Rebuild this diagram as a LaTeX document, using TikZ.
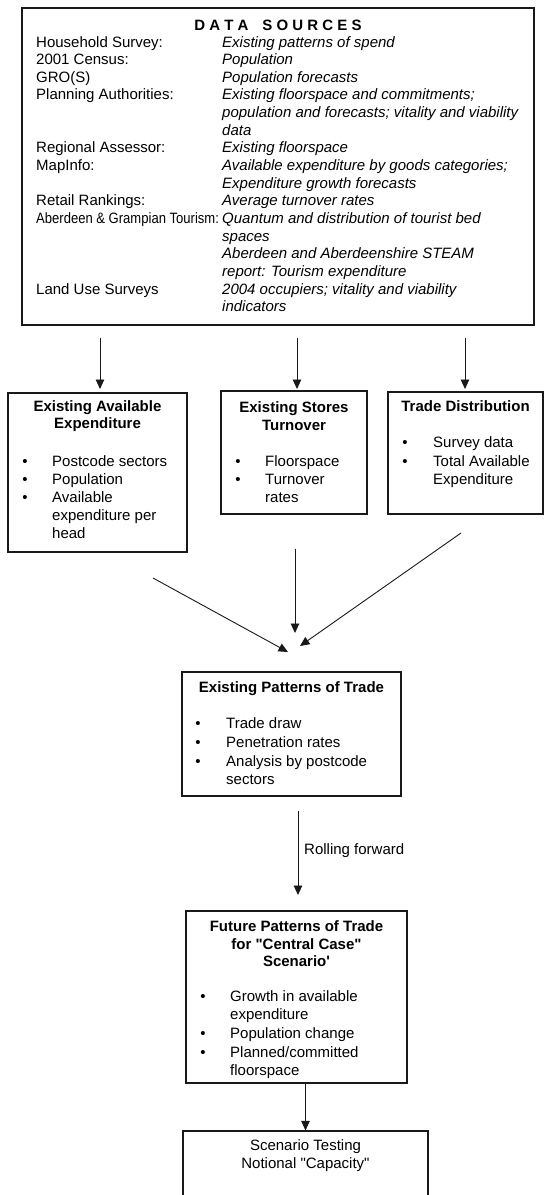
\documentclass[tikz,border=0pt]{standalone}
\usepackage{fontspec}
\setmainfont{Liberation Sans}[Ligatures=TeXOff]
\usetikzlibrary{arrows.meta}
\begin{document}
\begin{tikzpicture}[x=1pt,y=-1pt,
  box/.style={draw=black!90, line width=1.1pt, rectangle, inner sep=0pt},
  txt/.style={anchor=base west, inner sep=0pt, font=\fontsize{15}{17.6}\selectfont},
  itx/.style={txt, font=\fontsize{15}{17.6}\selectfont\itshape},
  ctxt/.style={anchor=base, inner sep=0pt, font=\fontsize{15}{17.6}\selectfont},
  btitle/.style={anchor=base, inner sep=0pt, font=\fontsize{15}{17.6}\selectfont\bfseries},
  bul/.style={anchor=base, inner sep=0pt, font=\fontsize{15}{17.6}\selectfont},
  arr/.style={draw=black!90, line width=0.9pt, -{Triangle[length=9.5pt,width=8.5pt]}},
]
\useasboundingbox (0,0) rectangle (544,1195);
\clip (0,0) rectangle (544,1195);

% ---------- boxes ----------
\node[box, minimum width=512pt, minimum height=317pt] (ds) at (278,166.5) {};
\node[box, minimum width=179pt, minimum height=159pt] (aae) at (97.5,472.5) {};
\node[box, minimum width=146pt, minimum height=123pt] (est) at (294,452.5) {};
\node[box, minimum width=155pt, minimum height=122pt] (td) at (465.5,453) {};
\node[box, minimum width=219pt, minimum height=124pt] (ept) at (291.5,734) {};
\node[box, minimum width=221pt, minimum height=172pt] (fpt) at (296.5,997) {};
\node[box, minimum width=245pt, minimum height=84pt] (st) at (305.5,1173) {};

% ---------- data sources ----------
\node[btitle] (dst) at (278,30.5) {D A T A\hspace{14pt}S O U R C E S};
\node[txt] (l1) at (36,47.0) {Household Survey:};
\node[itx] (r1) at (222,47.0) {Existing patterns of spend};
\node[txt] (l2) at (36,64.65) {2001 Census:};
\node[itx] (r2) at (222,64.65) {Population};
\node[txt] (l3) at (36,82.3) {GRO(S)};
\node[itx] (r3) at (222,82.3) {Population forecasts};
\node[txt] (l4) at (36,99.95) {Planning Authorities:};
\node[itx] (r4) at (222,99.95) {Existing floorspace and commitments;};
\node[itx] (r5) at (222,117.6) {population and forecasts; vitality and viability};
\node[itx] (r6) at (222,135.25) {data};
\node[txt] (l7) at (36,152.9) {Regional Assessor:};
\node[itx] (r7) at (222,152.9) {Existing floorspace};
\node[txt] (l8) at (36,170.55) {MapInfo:};
\node[itx] (r8) at (222,170.55) {Available expenditure by goods categories;};
\node[itx] (r9) at (222,188.2) {Expenditure growth forecasts};
\node[txt] (l10) at (36,205.85) {Retail Rankings:};
\node[itx] (r10) at (222,205.85) {Average turnover rates};
\node[txt] (l11) at (36,223.5) {\scalebox{0.87}[1]{Aberdeen \& Grampian Tourism:}};
\node[itx] (r11) at (222,223.5) {Quantum and distribution of tourist bed};
\node[itx] (r12) at (222,241.15) {spaces};
\node[itx] (r13) at (222,258.8) {Aberdeen and Aberdeenshire STEAM};
\node[itx] (r14) at (222,276.45) {report: Tourism expenditure};
\node[txt] (l15) at (36,294.1) {Land Use Surveys};
\node[itx] (r15) at (222,294.1) {2004 occupiers; vitality and viability};
\node[itx] (r16) at (222,311.75) {indicators};

% ---------- Existing Available Expenditure ----------
\node[btitle] (aat1) at (97.5,411.5) {Existing Available};
\node[btitle] (aat2) at (97.5,428.5) {Expenditure};
\node[bul] (ab1) at (25,466.5) {\textbullet};
\node[txt] (ai1) at (52,466.5) {Postcode sectors};
\node[bul] (ab2) at (25,484.5) {\textbullet};
\node[txt] (ai2) at (52,484.5) {Population};
\node[bul] (ab3) at (25,502.5) {\textbullet};
\node[txt] (ai3) at (52,502.5) {Available};
\node[txt] (ai4) at (52,520.5) {expenditure per};
\node[txt] (ai5) at (52,538.5) {head};

% ---------- Existing Stores Turnover ----------
\node[btitle] (est1) at (294,412.5) {Existing Stores};
\node[btitle] (est2) at (294,430) {Turnover};
\node[bul] (eb1) at (238,466.5) {\textbullet};
\node[txt] (ei1) at (265,466.5) {Floorspace};
\node[bul] (eb2) at (238,484.5) {\textbullet};
\node[txt] (ei2) at (265,484.5) {Turnover};
\node[txt] (ei3) at (265,502.5) {rates};

% ---------- Trade Distribution ----------
\node[btitle] (tdt) at (465.5,411.5) {Trade Distribution};
\node[bul] (tb1) at (405,447.5) {\textbullet};
\node[txt] (ti1) at (433,447.5) {Survey data};
\node[bul] (tb2) at (405,466.5) {\textbullet};
\node[txt] (ti2) at (433,466.5) {Total Available};
\node[txt] (ti3) at (433,484.5) {Expenditure};

% ---------- Existing Patterns of Trade ----------
\node[btitle] (eptt) at (291.5,692.5) {Existing Patterns of Trade};
\node[bul] (pb1) at (198,728.5) {\textbullet};
\node[txt] (pi1) at (226,728.5) {Trade draw};
\node[bul] (pb2) at (198,747) {\textbullet};
\node[txt] (pi2) at (226,747) {Penetration rates};
\node[bul] (pb3) at (198,766) {\textbullet};
\node[txt] (pi3) at (226,766) {Analysis by postcode};
\node[txt] (pi4) at (226,784) {sectors};

% ---------- Future Patterns of Trade ----------
\node[btitle] (fpt1) at (296.5,931.5) {Future Patterns of Trade};
\node[btitle] (fpt2) at (296.5,949) {for "Central Case"};
\node[btitle] (fpt3) at (296.5,966.5) {Scenario'};
\node[bul] (fb1) at (203,1001.5) {\textbullet};
\node[txt] (fi1) at (230,1001.5) {Growth in available};
\node[txt] (fi2) at (230,1019.5) {expenditure};
\node[bul] (fb2) at (203,1038.5) {\textbullet};
\node[txt] (fi3) at (230,1038.5) {Population change};
\node[bul] (fb3) at (203,1057.5) {\textbullet};
\node[txt] (fi4) at (230,1057.5) {Planned/committed};
\node[txt] (fi5) at (230,1075) {floorspace};

% ---------- Scenario Testing ----------
\node[ctxt] (st1) at (305.5,1150.5) {Scenario Testing};
\node[ctxt] (st2) at (305.5,1168.5) {Notional "Capacity"};

% ---------- connectors ----------
\coordinate (a1) at (100,389);
\coordinate (a2) at (297,389);
\coordinate (a3) at (465,389);
\draw[arr, shorten <=12pt] (ds.south -| a1) -- (a1);
\draw[arr, shorten <=12pt] (ds.south -| a2) -- (a2);
\draw[arr, shorten <=12pt] (ds.south -| a3) -- (a3);

\coordinate (cl0) at (153,578);
\coordinate (cl1) at (288,652);
\coordinate (cm1) at (295,633);
\coordinate (cr0) at (461,533);
\coordinate (cr1) at (300,646);
\draw[arr] (cl0) -- (cl1);
\draw[arr, shorten <=34pt] (est.south -| cm1) -- (cm1);
\draw[arr] (cr0) -- (cr1);

\coordinate (rf1) at (298,895);
\draw[arr, shorten <=14pt] (ept.south -| rf1) -- (rf1);
\node[txt] (rfl) at (304,854.5) {Rolling forward};

\draw[arr] (fpt.south -| st.north) -- (st.north);
\end{tikzpicture}
\end{document}
